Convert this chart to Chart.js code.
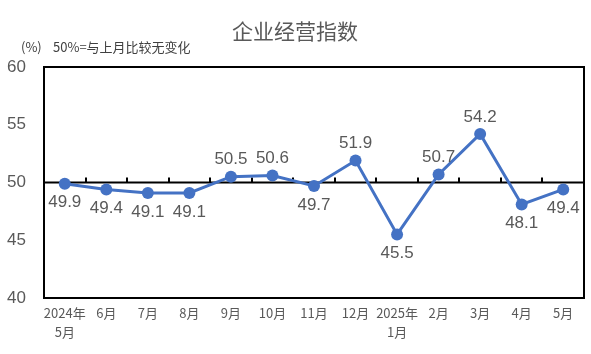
<!DOCTYPE html>
<html>
<head>
<meta charset="utf-8">
<script src="https://cdn.jsdelivr.net/npm/chart.js@4"></script>
<style>
  html, body { margin: 0; padding: 0; background: #fff; }
  #wrap { width: 591px; height: 354px; }
</style>
</head>
<body>
<div id="wrap"><canvas id="myChart" width="591" height="354"></canvas></div>
<script>
// data
const months = [['2024年', '5月'], '6月', '7月', '8月', '9月', '10月', '11月', '12月', ['2025年', '1月'], '2月', '3月', '4月', '5月'];
const indexValues = [49.9, 49.4, 49.1, 49.1, 50.5, 50.6, 49.7, 51.9, 45.5, 50.7, 54.2, 48.1, 49.4];
const labelAbove = [false, false, false, false, true, true, false, true, false, true, true, false, false];
const yTicks = [40, 45, 50, 55, 60];
const baseLine = 50;

// frame + 50 line under the series
const baseLinePlugin = {
    id: 'baseLine',
    beforeDatasetsDraw(chart) {
        const ctx = chart.ctx;
        const area = chart.chartArea;
        const y = chart.scales.y;
        ctx.save();
        ctx.strokeStyle = '#000';
        ctx.lineWidth = 2;
        ctx.strokeRect(area.left, area.top, area.right - area.left, area.bottom - area.top);

        const y50 = y.getPixelForValue(baseLine);
        ctx.beginPath();
        ctx.moveTo(area.left, y50);
        ctx.lineTo(area.right, y50);
        const step = (area.right - area.left) / months.length;
        for (let i = 1; i < months.length; i++) {
            const tx = Math.round(area.left + step * i);
            ctx.moveTo(tx, y50);
            ctx.lineTo(tx, y50 - 5);
        }
        ctx.stroke();
        ctx.restore();
    }
};

// title, note, value labels
const decor = {
    id: 'decor',
    afterDraw(chart) {
        const ctx = chart.ctx;
        ctx.save();

        ctx.fillStyle = '#595959';
        ctx.font = '21px "Noto Sans CJK SC"';
        ctx.textAlign = 'center';
        ctx.textBaseline = 'middle';
        ctx.fillText('企业经营指数', 295, 31);

        ctx.font = '13px "Noto Sans CJK SC"';
        ctx.textAlign = 'left';
        ctx.fillStyle = '#404040';
        ctx.fillText('(%)', 21, 47);
        ctx.fillText('50%=与上月比较无变化', 53, 47);

        ctx.font = '17px "Liberation Sans"';
        ctx.fillStyle = '#595959';
        ctx.textAlign = 'center';
        const meta = chart.getDatasetMeta(0);
        meta.data.forEach((pt, i) => {
            const dy = labelAbove[i] ? -17 : 19;
            ctx.fillText(indexValues[i].toFixed(1), pt.x, pt.y + dy);
        });
        ctx.restore();
    }
};

const ctx = document.getElementById('myChart').getContext('2d');
const chart = new Chart(ctx, {
    type: 'line',
    data: {
        labels: months,
        datasets: [{
            data: indexValues,
            borderColor: '#4472C4',
            backgroundColor: '#4472C4',
            borderWidth: 3,
            pointRadius: 6,
            pointBorderWidth: 0,
            tension: 0
        }]
    },
    options: {
        responsive: false,
        animation: false,
        layout: { padding: { top: 67, right: 7, bottom: 0, left: 0 } },
        plugins: { legend: { display: false }, tooltip: { enabled: false } },
        scales: {
            x: {
                offset: true,
                grid: { display: false, drawTicks: false },
                border: { display: false },
                ticks: {
                    color: '#595959',
                    font: { size: 13, family: '"Noto Sans CJK SC"', lineHeight: 1.45 },
                    padding: 6,
                    maxRotation: 0,
                    autoSkip: false
                },
                afterFit(scale) { scale.height = 56; }
            },
            y: {
                min: 40,
                max: 60,
                afterBuildTicks(scale) { scale.ticks = yTicks.map(v => ({ value: v })); },
                grid: { display: false, drawTicks: false },
                border: { display: false },
                ticks: {
                    color: '#595959',
                    font: { size: 17, family: '"Liberation Sans"' },
                    padding: 18
                },
                afterFit(scale) { scale.width = 44; }
            }
        }
    },
    plugins: [baseLinePlugin, decor]
});
</script>
</body>
</html>
